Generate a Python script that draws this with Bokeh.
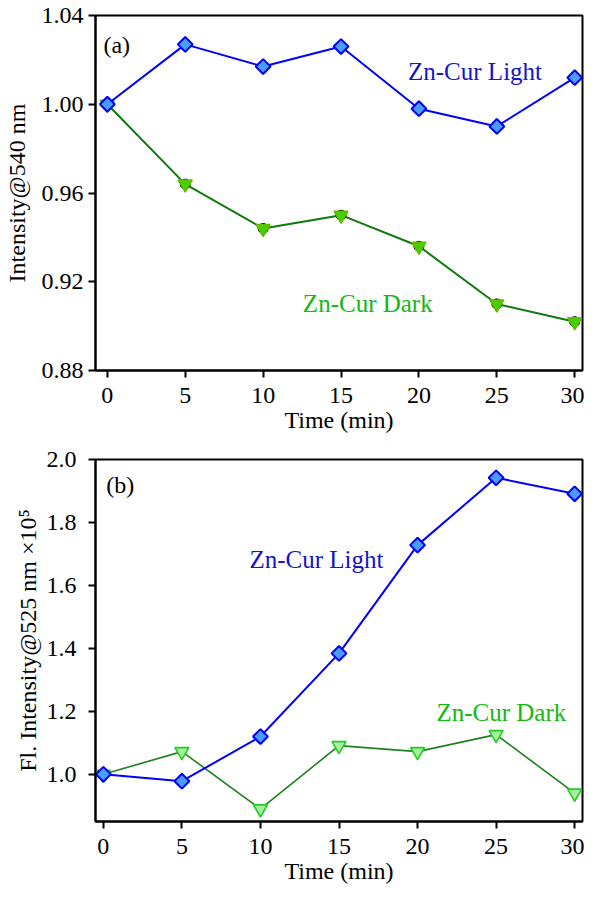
from bokeh.plotting import figure
from bokeh.layouts import column
from bokeh.models import Range1d, FixedTicker, NumeralTickFormatter, Label
from bokeh.embed import file_html
from bokeh.resources import INLINE

# ---------------- data ----------------
time_min = [0, 5, 10, 15, 20, 25, 30]

# panel (a): intensity at 540 nm
a_light = [1.000, 1.027, 1.017, 1.026, 0.998, 0.990, 1.012]
a_dark = [1.000, 0.964, 0.944, 0.950, 0.936, 0.910, 0.902]

# panel (b): fluorescence intensity at 525 nm (x10^5)
b_light = [1.000, 0.978, 1.120, 1.384, 1.728, 1.942, 1.891]
b_dark = [1.000, 1.072, 0.890, 1.091, 1.072, 1.126, 0.940]

x_ticks = [0, 5, 10, 15, 20, 25, 30]
a_yticks = [0.88, 0.92, 0.96, 1.00, 1.04]
b_yticks = [1.0, 1.2, 1.4, 1.6, 1.8, 2.0]

FONT = "'Liberation Serif', 'Times New Roman', serif"
BLUE_LINE = "#0000ff"
BLUE_FILL = "#4a9cff"
BLUE_TEXT = "#1414c8"
GREEN_TEXT = "#14b814"


def style(p, yticks, yfmt, ylabel, tick_standoff, label_standoff):
    p.grid.visible = False
    p.outline_line_color = "black"
    p.outline_line_width = 2
    p.background_fill_color = "white"
    p.border_fill_color = "white"
    for ax in (p.xaxis[0], p.yaxis[0]):
        ax.axis_line_width = 2
        ax.major_tick_line_width = 2
        ax.major_tick_out = 7
        ax.major_tick_in = 0
        ax.minor_tick_line_color = None
        ax.major_label_text_font = FONT
        ax.major_label_text_font_size = "24px"
        ax.major_label_text_color = "black"
        ax.axis_label_text_font = FONT
        ax.axis_label_text_font_size = "24px"
        ax.axis_label_text_font_style = "normal"
        ax.axis_label_text_color = "black"
    p.xaxis.ticker = FixedTicker(ticks=x_ticks)
    p.xaxis.axis_label = "Time (min)"
    p.xaxis.major_label_standoff = 10
    p.xaxis.axis_label_standoff = 1
    p.yaxis.ticker = FixedTicker(ticks=yticks)
    p.yaxis.formatter = NumeralTickFormatter(format=yfmt)
    p.yaxis.axis_label = ylabel
    p.yaxis.major_label_standoff = tick_standoff
    p.yaxis.axis_label_standoff = label_standoff


def add_text(p, x, y, txt, color, size="25px"):
    p.add_layout(Label(x=x, y=y, text=txt, text_color=color, text_font=FONT,
                       text_font_size=size, text_baseline="middle", text_align="left"))


# ---------------- panel (a) ----------------
pa = figure(width=584, height=446, output_backend="svg", toolbar_location=None,
            x_range=Range1d(-0.76, 30.5), y_range=Range1d(0.88, 1.04),
            min_border_left=88, min_border_right=2, min_border_top=15, min_border_bottom=76)
style(pa, a_yticks, "0.00", "Intensity@540 nm", 5, 9)

pa.line(time_min, a_dark, line_color="#0f7a0f", line_width=2)
pa.scatter(time_min, a_dark, marker="circle", size=10, fill_color="black", line_color="black")
pa.scatter(time_min, a_dark, marker="inverted_triangle", size=14,
           fill_color="#3fd400", line_color="#66b800", line_width=1.5)
pa.line(time_min, a_light, line_color=BLUE_LINE, line_width=2)
pa.scatter(time_min, a_light, marker="square", angle=0.785398, size=10.5,
           fill_color=BLUE_FILL, line_color=BLUE_LINE, line_width=2)

add_text(pa, -0.25, 1.0265, "(a)", "black", "24px")
add_text(pa, 19.3, 1.0148, "Zn-Cur Light", BLUE_TEXT)
add_text(pa, 12.55, 0.910, "Zn-Cur Dark", GREEN_TEXT)

# ---------------- panel (b) ----------------
pb = figure(width=584, height=453, output_backend="svg", toolbar_location=None,
            x_range=Range1d(-0.5, 30.5), y_range=Range1d(0.85, 2.0),
            min_border_left=88, min_border_right=2, min_border_top=13, min_border_bottom=78)
style(pb, b_yticks, "0.0", "Fl. Intensity@525 nm \u00d710\u2075", 12, 3)

pb.line(time_min, b_dark, line_color="#1f801f", line_width=1.6)
pb.scatter(time_min, b_dark, marker="inverted_triangle", size=14,
           fill_color="#a6f0a0", line_color="#22cc22", line_width=1.6)
pb.line(time_min, b_light, line_color=BLUE_LINE, line_width=2)
pb.scatter(time_min, b_light, marker="square", angle=0.785398, size=10.5,
           fill_color=BLUE_FILL, line_color=BLUE_LINE, line_width=2)

add_text(pb, 0.19, 1.919, "(b)", "black", "24px")
add_text(pb, 9.3, 1.681, "Zn-Cur Light", BLUE_TEXT)
add_text(pb, 21.2, 1.197, "Zn-Cur Dark", GREEN_TEXT)

layout = column(pa, pb, spacing=0)
open("out.html", "w").write(file_html(layout, INLINE))
